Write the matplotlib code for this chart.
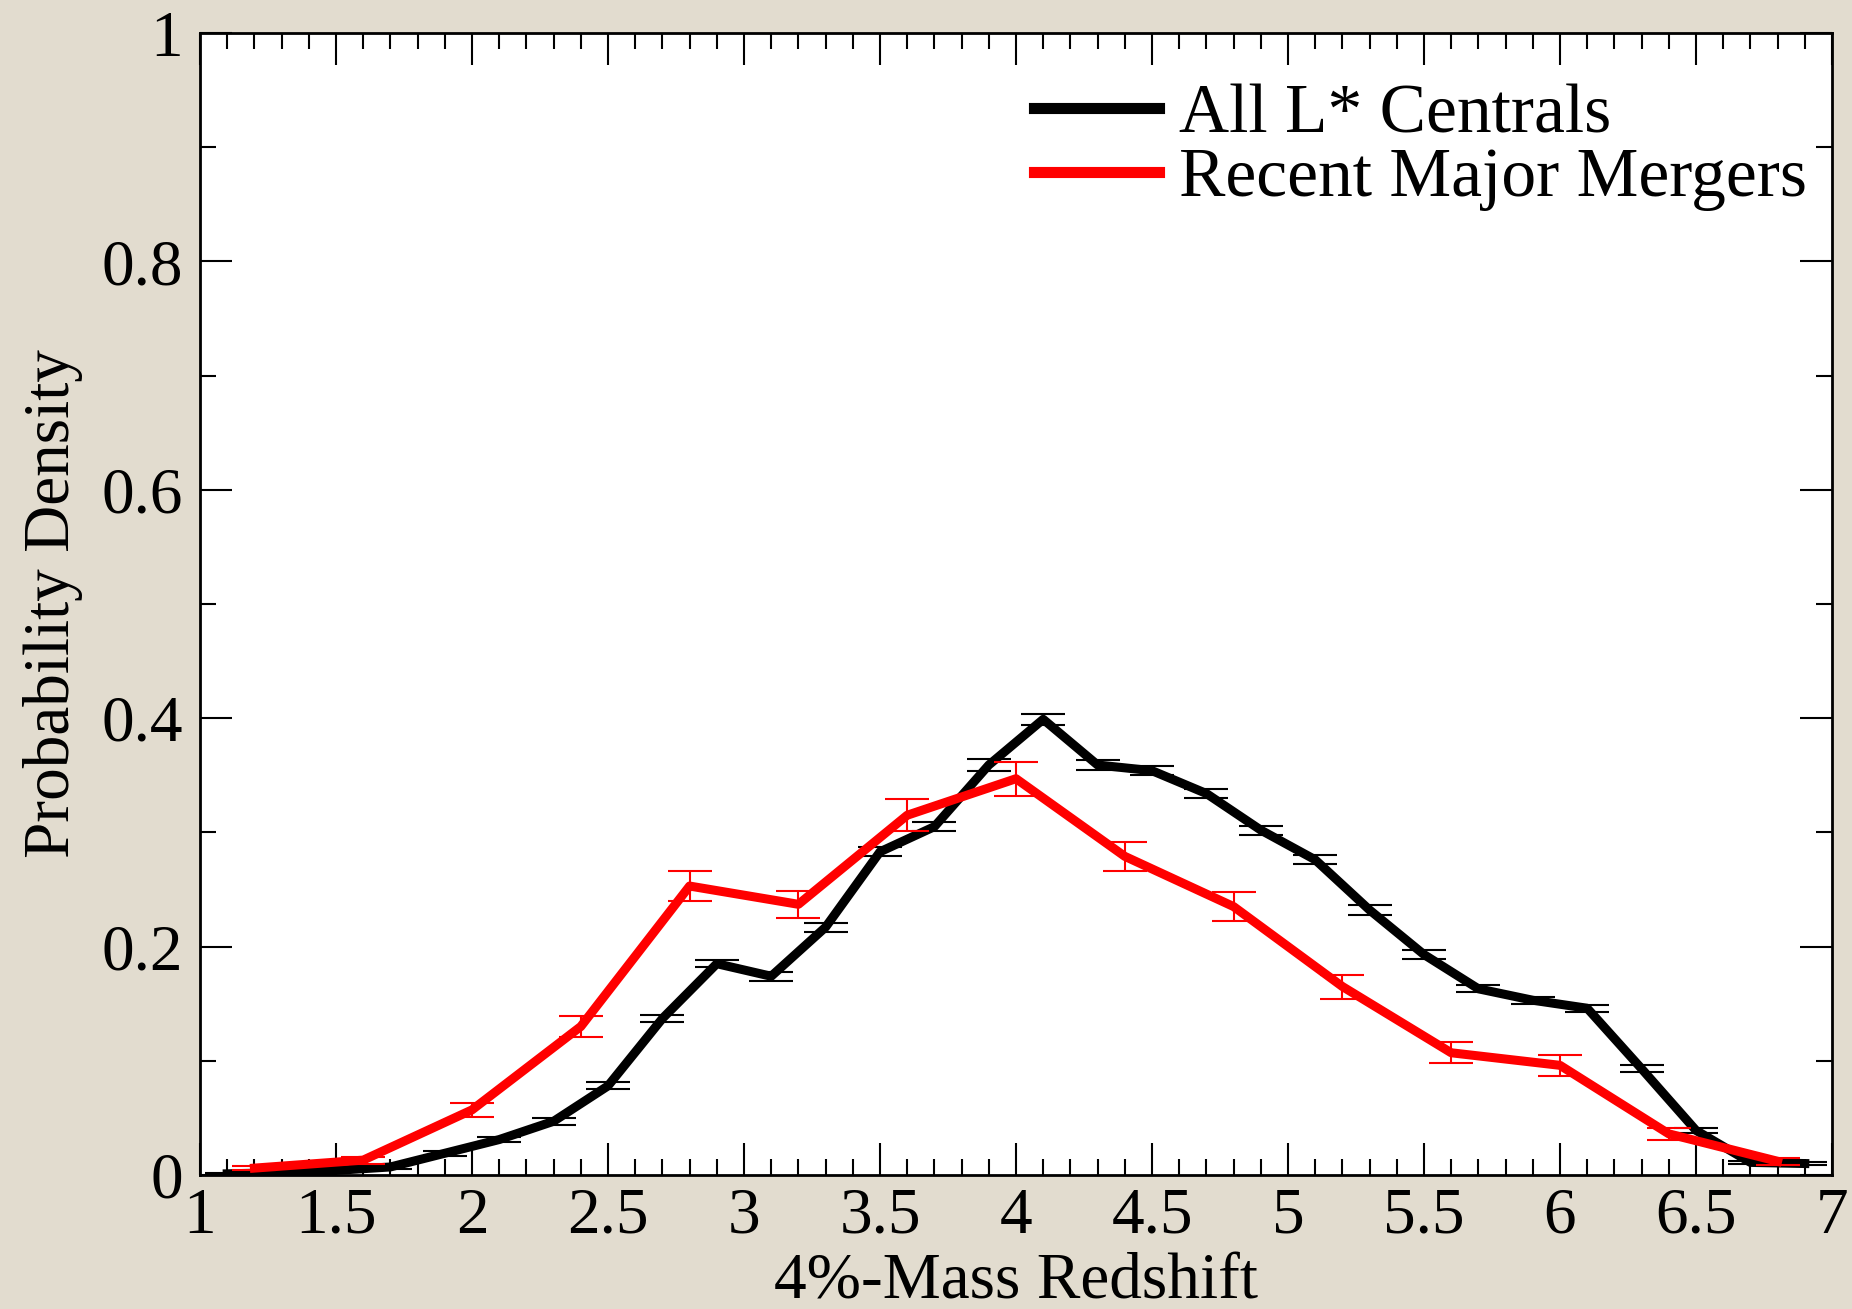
import matplotlib
matplotlib.use("Agg")
import matplotlib.pyplot as plt
from matplotlib.ticker import MultipleLocator

# All L* centrals (black)
x_all = [1.1, 1.3, 1.5, 1.7, 1.9, 2.1, 2.3, 2.5, 2.7, 2.9,
         3.1, 3.3, 3.5, 3.7, 3.9, 4.1, 4.3, 4.5, 4.7, 4.9,
         5.1, 5.3, 5.5, 5.7, 5.9, 6.1, 6.3, 6.5, 6.7, 6.9]
y_all = [0.001, 0.002, 0.004, 0.007, 0.019, 0.031, 0.047, 0.078, 0.137, 0.185,
         0.174, 0.217, 0.283, 0.305, 0.359, 0.399, 0.359, 0.354, 0.334, 0.302,
         0.276, 0.232, 0.193, 0.163, 0.153, 0.146, 0.093, 0.039, 0.011, 0.010]
e_all = [0.001, 0.001, 0.001, 0.0015, 0.002, 0.0025, 0.003, 0.003, 0.003, 0.003,
         0.004, 0.004, 0.004, 0.004, 0.005, 0.005, 0.004, 0.004, 0.004, 0.004,
         0.004, 0.004, 0.004, 0.003, 0.003, 0.003, 0.003, 0.002, 0.001, 0.001]

# recent major mergers (red)
x_mm = [1.2, 1.6, 2.0, 2.4, 2.8, 3.2, 3.6, 4.0, 4.4, 4.8, 5.2, 5.6, 6.0, 6.4, 6.8]
y_mm = [0.006, 0.013, 0.057, 0.130, 0.253, 0.237, 0.315, 0.347, 0.279, 0.235,
        0.165, 0.107, 0.096, 0.036, 0.012]
e_mm = [0.002, 0.003, 0.006, 0.009, 0.013, 0.012, 0.014, 0.015, 0.013, 0.013,
        0.0105, 0.009, 0.009, 0.005, 0.003]

xticks = [1, 1.5, 2, 2.5, 3, 3.5, 4, 4.5, 5, 5.5, 6, 6.5, 7]
xticklabels = ["1", "1.5", "2", "2.5", "3", "3.5", "4", "4.5", "5", "5.5", "6", "6.5", "7"]
yticks = [0, 0.2, 0.4, 0.6, 0.8, 1]
yticklabels = ["0", "0.2", "0.4", "0.6", "0.8", "1"]

plt.rcParams['font.family'] = ['Liberation Serif', 'DejaVu Serif']

fig = plt.figure(figsize=(18.52, 13.09), dpi=100, facecolor='#e2dccf')
ax = fig.add_axes([0.108, 0.1024, 0.8812, 0.8724])
ax.set_facecolor('white')

l1, = ax.plot(x_all, y_all, color='black', lw=6.5, zorder=2)
ax.errorbar(x_all, y_all, yerr=e_all, fmt='none', ecolor='black',
            elinewidth=1.5, capsize=16, capthick=1.5, zorder=3)
l2, = ax.plot(x_mm, y_mm, color='red', lw=6.5, zorder=4)
ax.errorbar(x_mm, y_mm, yerr=e_mm, fmt='none', ecolor='red',
            elinewidth=1.5, capsize=16, capthick=1.5, zorder=5)

ax.set_xlim(1, 7)
ax.set_ylim(0, 1)
ax.set_xticks(xticks)
ax.set_xticklabels(xticklabels)
ax.set_yticks(yticks)
ax.set_yticklabels(yticklabels)
ax.xaxis.set_minor_locator(MultipleLocator(0.1))
ax.yaxis.set_minor_locator(MultipleLocator(0.1))
ax.tick_params(which='both', direction='in', top=True, right=True, width=1.5,
               labelsize=47)
ax.tick_params(which='major', length=23)
ax.tick_params(which='minor', length=11.5)
ax.tick_params(axis='x', pad=9)
ax.tick_params(axis='y', pad=12)
for s in ax.spines.values():
    s.set_linewidth(2)

ax.set_xlabel('4%-Mass Redshift', fontsize=47)
ax.xaxis.set_label_coords(0.5, -0.094)
ax.xaxis.label.set_va('center')
ax.set_ylabel('Probability Density', fontsize=47)
ax.yaxis.set_label_coords(-0.09, 0.5)
ax.yaxis.label.set_va('center')

leg = ax.legend(handles=[l1, l2], labels=['All L* Centrals', 'Recent Major Mergers'],
                loc='upper right', bbox_to_anchor=(1.002, 0.98), frameon=False,
                fontsize=50, handlelength=1.8, handletextpad=0.3, labelspacing=0.0,
                borderaxespad=0.0)
for h in leg.get_lines():
    h.set_linewidth(8)

fig.savefig('out.png', dpi=100, facecolor=fig.get_facecolor())
